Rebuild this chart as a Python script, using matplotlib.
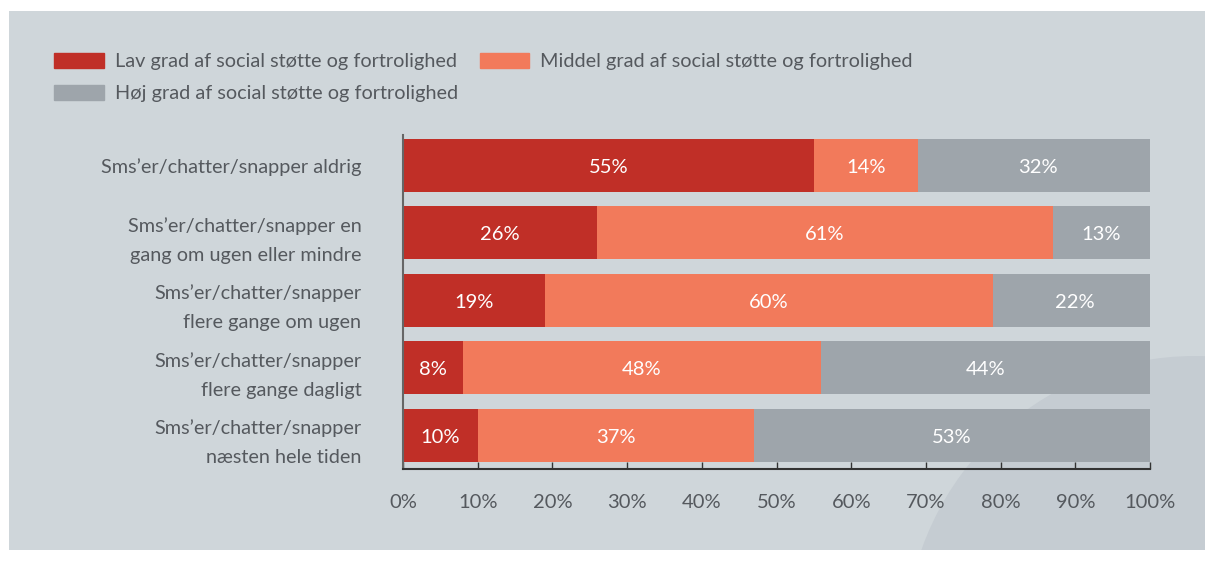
import numpy as np
import matplotlib.pyplot as plt
from matplotlib.patches import Rectangle, Circle, Patch

plt.rcParams['font.family'] = ['Lato', 'DejaVu Sans']

categories = ["Sms\u2019er/chatter/snapper aldrig",
              "Sms\u2019er/chatter/snapper en\ngang om ugen eller mindre",
              "Sms\u2019er/chatter/snapper\nflere gange om ugen",
              "Sms\u2019er/chatter/snapper\nflere gange dagligt",
              "Sms\u2019er/chatter/snapper\nnæsten hele tiden"]
lav = [55, 26, 19, 8, 10]
middel = [14, 61, 60, 48, 37]
hoj = [32, 13, 22, 44, 53]
series_names = ["Lav grad af social støtte og fortrolighed",
                "Middel grad af social støtte og fortrolighed",
                "Høj grad af social støtte og fortrolighed"]
xticks = [0, 10, 20, 30, 40, 50, 60, 70, 80, 90, 100]

colors = ["#c02f27", "#f27a5b", "#9ea5ab"]
bg = "#cfd6da"
txt = "#55595e"

fig = plt.figure(figsize=(12.14, 5.61), dpi=100)
fig.patch.set_facecolor("white")
panel = Rectangle((9/1214, 11/561), 1196/1214, 539/561, transform=fig.transFigure,
                  facecolor=bg, edgecolor="none", zorder=-10)
fig.patches.append(panel)
# faint watermark circle (inches)
wm = Circle((11.95, -0.85), 2.9, transform=fig.dpi_scale_trans,
            facecolor="#c5ccd2", edgecolor="none", zorder=-9)
wm.set_clip_path(panel)
fig.patches.append(wm)

ax = fig.add_axes([403/1214, 1 - 469/561, 747/1214, 334/561])
ax.set_facecolor("none")

y = np.arange(len(categories))
h = 0.785
left = np.zeros(len(categories))
for vals, c in zip([lav, middel, hoj], colors):
    vals = np.array(vals)
    ax.barh(y, vals, left=left, height=h, color=c, zorder=2)
    for yi, l, v in zip(y, left, vals):
        ax.text(l + v / 2, yi + 0.03, f"{v}%", ha="center", va="center",
                color="white", fontsize=14.5, zorder=3)
    left = left + vals

ax.set_xlim(0, 100)
ax.set_ylim(4.5, -0.45)
ax.set_yticks(y)
ax.set_yticklabels(categories, fontsize=14.3, color=txt, linespacing=1.85)
ax.tick_params(axis="y", length=0, pad=30)
ax.set_xticks(xticks)
ax.set_xticklabels([f"{t}%" for t in xticks], fontsize=14.5, color=txt)
ax.tick_params(axis="x", direction="in", length=5, width=1, color="#333333", pad=18)

for s in ["top", "right"]:
    ax.spines[s].set_visible(False)
ax.spines["bottom"].set_color("#333333")
ax.spines["bottom"].set_linewidth(1.5)
ax.spines["left"].set_color("#666666")
ax.spines["left"].set_linewidth(1.5)

handles = [Patch(color=colors[0]), Patch(color=colors[2]), Patch(color=colors[1])]
labels = [series_names[0], series_names[2], series_names[1]]
fig.legend(handles, labels, ncol=2, loc="upper left", bbox_to_anchor=(54/1214, 1 - 53/561),
           frameon=False, fontsize=14.3, handlelength=2.5, handleheight=0.75,
           handletextpad=0.55, labelspacing=0.75, columnspacing=1.1, borderpad=0,
           borderaxespad=0, labelcolor=txt)

fig.savefig("out.png", dpi=100, facecolor="white")
